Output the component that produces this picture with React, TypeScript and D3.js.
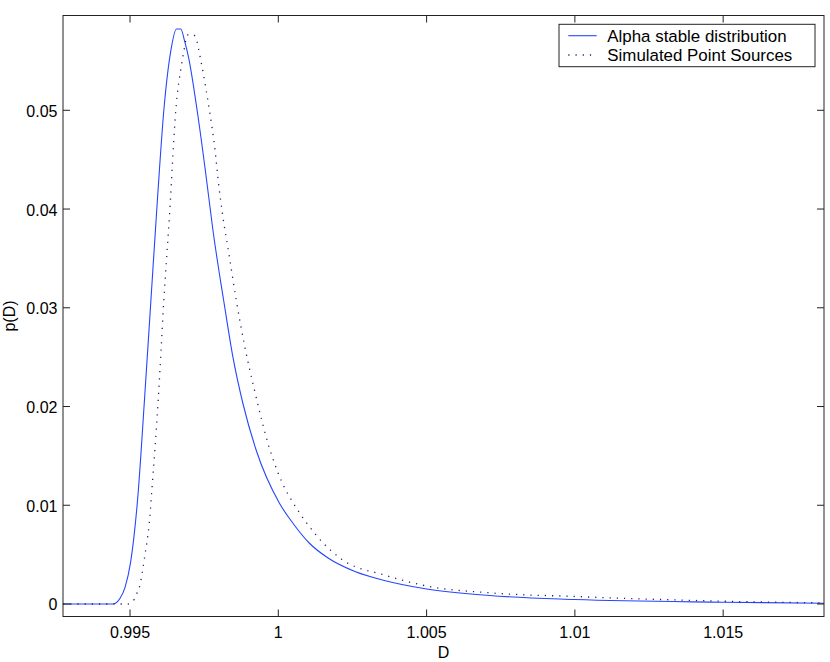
import React from "react";
import * as d3 from "d3";

const alphaX = [0.99274, 0.994429, 0.994664, 0.994832, 0.995023, 0.995268, 0.995487, 0.995705, 0.995923, 0.996141, 0.996376, 0.996567, 0.996712, 0.996846, 0.99698, 0.997282, 0.997551, 0.997795, 0.99802, 0.998155, 0.998467, 0.998802, 0.999252, 1.000034, 1.000537, 1.001041, 1.001678, 1.002585, 1.003578, 1.005, 1.007114, 1.01, 1.015, 1.0184];
const alphaY = [0, 0, 0.000577, 0.001691, 0.004284, 0.011039, 0.02066, 0.030788, 0.040915, 0.05003, 0.056036, 0.058234, 0.058234, 0.056947, 0.055266, 0.049595, 0.04365, 0.037877, 0.03332, 0.030788, 0.025046, 0.020356, 0.015596, 0.010229, 0.008001, 0.006178, 0.004659, 0.003291, 0.00238, 0.001519, 0.000861, 0.000456, 0.000182, 0.000081];

const simX = [0.99274, 0.994933, 0.995144, 0.995245, 0.995336, 0.995426, 0.995503, 0.995581, 0.995648, 0.995728, 0.99595, 0.996141, 0.996342, 0.996544, 0.996735, 0.996822, 0.996936, 0.997148, 0.997259, 0.997373, 0.99746, 0.997594, 0.997685, 0.997853, 0.997997, 0.998131, 0.998356, 0.998581, 0.998859, 0.999195, 0.999698, 1.000168, 1.000504, 1.001007, 1.001511, 1.002148, 1.003578, 1.005, 1.007114, 1.01, 1.015, 1.0184];
const simY = [0, 0, 0.000476, 0.001185, 0.001924, 0.003443, 0.004963, 0.006482, 0.008173, 0.011211, 0.02066, 0.030788, 0.039903, 0.05003, 0.054588, 0.056107, 0.057626, 0.057626, 0.056947, 0.055266, 0.053909, 0.05155, 0.049858, 0.046314, 0.042263, 0.039224, 0.035042, 0.030788, 0.02623, 0.021673, 0.015799, 0.012052, 0.010229, 0.008001, 0.006178, 0.004507, 0.002937, 0.001823, 0.001134, 0.00076, 0.000284, 0.000111];

const xTicks = [0.995, 1, 1.005, 1.01, 1.015];
const xTickLabels = ["0.995", "1", "1.005", "1.01", "1.015"];
const yTicks = [0, 0.01, 0.02, 0.03, 0.04, 0.05];
const yTickLabels = ["0", "0.01", "0.02", "0.03", "0.04", "0.05"];
const legendLabels = ["Alpha stable distribution", "Simulated Point Sources"];
const xLabel = "D";
const yLabel = "p(D)";

const X_DOMAIN = [0.99274, 1.0184];
const Y_DOMAIN = [-0.001266, 0.0596];

const W = 830;
const H = 662;
const L = 63, R = 824, T = 15.5, B = 616.5;
const FONT = "'Liberation Sans', Arial, Helvetica, sans-serif";

export default function App() {
  const x = d3.scaleLinear().domain(X_DOMAIN).range([L, R]);
  const y = d3.scaleLinear().domain(Y_DOMAIN).range([B, T]);
  const line = d3
    .line<[number, number]>()
    .x((d) => x(d[0]))
    .y((d) => y(d[1]))
    .curve(d3.curveMonotoneX);
  const alpha: [number, number][] = alphaX.map((v, i) => [v, alphaY[i]]);
  const sim: [number, number][] = simX.map((v, i) => [v, simY[i]]);
  const tickLen = 7;
  const blue = "#2546ff";
  const dotCol = "#2a1a66";

  return (
    <svg
      width={W}
      height={H}
      style={{ position: "absolute", left: 0, top: 0, background: "#fff" }}
      fontFamily={FONT}
    >
      <rect x={0} y={0} width={W} height={H} fill="#fff" />
      <defs>
        <clipPath id="plotclip">
          <rect x={L} y={T} width={R - L} height={B - T} />
        </clipPath>
      </defs>
      <g clipPath="url(#plotclip)">
        <path d={line(alpha) || ""} fill="none" stroke={blue} strokeWidth={1.1} />
        <path
          d={line(sim) || ""}
          fill="none"
          stroke={dotCol}
          strokeWidth={1.3}
          strokeDasharray="1.2 6"
        />
      </g>
      <rect x={L} y={T} width={R - L} height={B - T} fill="none" stroke="#222" strokeWidth={1} />
      {xTicks.map((t, i) => (
        <g key={"xt" + i}>
          <line x1={x(t)} x2={x(t)} y1={B} y2={B - tickLen} stroke="#222" />
          <line x1={x(t)} x2={x(t)} y1={T} y2={T + tickLen} stroke="#222" />
          <text x={x(t)} y={637.5} textAnchor="middle" fontSize={16} fill="#000">
            {xTickLabels[i]}
          </text>
        </g>
      ))}
      {yTicks.map((t, i) => (
        <g key={"yt" + i}>
          <line x1={L} x2={L + tickLen} y1={y(t)} y2={y(t)} stroke="#222" />
          <line x1={R} x2={R - tickLen} y1={y(t)} y2={y(t)} stroke="#222" />
          <text x={57.5} y={y(t) + 6.5} textAnchor="end" fontSize={16} fill="#000">
            {yTickLabels[i]}
          </text>
        </g>
      ))}
      <text x={(L + R) / 2} y={658} textAnchor="middle" fontSize={16} fill="#000">
        {xLabel}
      </text>
      <text
        transform={`translate(14.5,${(T + B) / 2}) rotate(-90)`}
        textAnchor="middle"
        fontSize={16}
        fill="#000"
      >
        {yLabel}
      </text>
      <rect x={559} y={24.3} width={256} height={42.4} fill="#fff" stroke="#222" strokeWidth={1} />
      <line x1={568.3} x2={596.7} y1={35.7} y2={35.7} stroke={blue} strokeWidth={1.1} />
      <line
        x1={568.3}
        x2={596.7}
        y1={55}
        y2={55}
        stroke={dotCol}
        strokeWidth={1.3}
        strokeDasharray="1.2 6"
      />
      <text x={607.3} y={41.5} fontSize={16.9} fill="#000">
        {legendLabels[0]}
      </text>
      <text x={607.3} y={61} fontSize={16.9} fill="#000">
        {legendLabels[1]}
      </text>
    </svg>
  );
}
